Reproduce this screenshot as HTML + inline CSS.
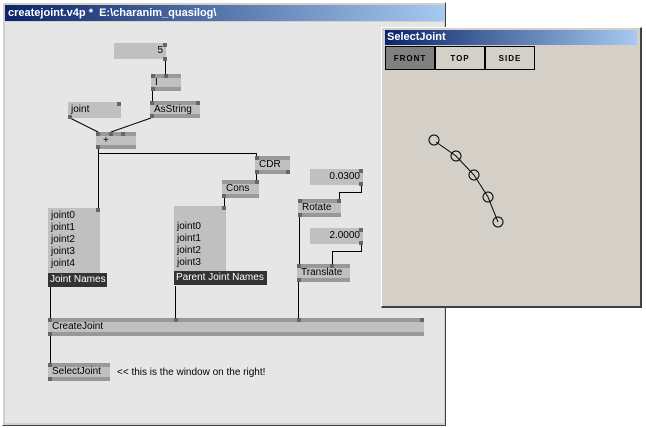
<!DOCTYPE html>
<html><head><meta charset="utf-8"><style>
body{margin:0;width:646px;height:428px;background:#fff;position:relative;overflow:hidden;font-family:"Liberation Sans",sans-serif;font-size:10px;color:#000}
.a{position:absolute;box-sizing:border-box}
.n{position:absolute;box-sizing:border-box;background:#c0c0c0;border-top:4px solid #999;border-bottom:4px solid #999;padding-left:4px;line-height:10px;font-size:10px;white-space:nowrap}
.b{position:absolute;box-sizing:border-box;background:#c0c0c0;text-align:right;padding-right:3px;font-size:10px;line-height:16px}
.p{position:absolute;width:4px;height:4px;background:#666}
.lbl{position:absolute;background:#333;color:#fff;font-size:10px;line-height:14px;padding-left:2px;box-sizing:border-box;white-space:nowrap}
.btn{position:absolute;top:46px;height:24px;border:1px solid #000;font-size:8px;letter-spacing:1px;text-align:center;line-height:24px;box-sizing:border-box;font-weight:bold}
</style></head><body>
<div class="a" style="left:2px;top:2px;width:444px;height:424px;background:#d4d0c8;border:1px solid #fff;border-right-color:#404040;border-bottom-color:#404040"></div>
<div class="a" style="left:5px;top:5px;width:440px;height:16px;background:linear-gradient(90deg,#0a246a,#a6caf0);color:#fff;font-weight:bold;font-size:11px;line-height:16px;padding-left:3px">createjoint.v4p *&nbsp; E:\charanim_quasilog\</div>
<div class="a" style="left:5px;top:22px;width:439px;height:401px;background:#e6e6e6"></div>

<svg class="a" style="left:0;top:0" width="646" height="428">
<g stroke="#000" stroke-width="1" fill="none">
<path d="M165.5 59V74"/><path d="M152.5 91V101"/>
<path d="M70 118L98 132"/><path d="M151 118L111 132"/>
<path d="M98.5 149V208"/><path d="M98.5 153.5H256.5V156"/>
<path d="M256.5 174V180"/><path d="M224.5 198V206"/>
<path d="M361.5 185V192.5H339.5V199"/><path d="M299.5 217V264"/>
<path d="M361.5 244V251.5H332.5V264"/>
<path d="M50.5 287V318"/><path d="M175.5 286V318"/><path d="M298.5 282V318"/>
<path d="M50.5 336V363"/>
</g></svg>

<div class="b" style="left:114px;top:43px;width:52px;height:16px">5</div><div class="p" style="left:163px;top:57px"></div><div class="p" style="left:163px;top:43px"></div>
<div class="n" style="left:151px;top:74px;width:30px;height:17px">I</div>
<div class="n" style="left:150px;top:101px;width:50px;height:17px">AsString</div>
<div class="b" style="left:68px;top:102px;width:53px;height:16px;text-align:left;padding-left:3px">joint</div><div class="p" style="left:68px;top:115px"></div><div class="p" style="left:117px;top:102px"></div>
<div class="n" style="left:96px;top:132px;width:40px;height:17px;padding-left:7px">+</div>
<div class="n" style="left:255px;top:156px;width:35px;height:18px">CDR</div>
<div class="n" style="left:222px;top:180px;width:37px;height:18px">Cons</div>
<div class="a" style="left:48px;top:208px;width:52px;height:65px;background:#c0c0c0;padding:2px 0 0 3px;line-height:12px;font-size:10px">joint0<br>joint1<br>joint2<br>joint3<br>joint4</div><div class="p" style="left:96px;top:208px"></div>
<div class="lbl" style="left:48px;top:273px;width:59px">Joint Names</div>
<div class="a" style="left:174px;top:206px;width:52px;height:65px;background:#c0c0c0;padding:15px 0 0 3px;line-height:12px;font-size:10px">joint0<br>joint1<br>joint2<br>joint3</div><div class="p" style="left:222px;top:206px"></div>
<div class="lbl" style="left:174px;top:271px;width:93px">Parent Joint Names</div>
<div class="b" style="left:310px;top:169px;width:53px;height:16px">0.0300</div><div class="p" style="left:359px;top:182px"></div><div class="p" style="left:359px;top:169px"></div>
<div class="n" style="left:298px;top:199px;width:43px;height:18px">Rotate</div>
<div class="b" style="left:310px;top:228px;width:53px;height:16px">2.0000</div><div class="p" style="left:359px;top:241px"></div><div class="p" style="left:359px;top:228px"></div>
<div class="n" style="left:297px;top:264px;width:53px;height:18px">Translate</div>
<div class="n" style="left:48px;top:318px;width:376px;height:18px">CreateJoint</div>
<div class="n" style="left:48px;top:363px;width:62px;height:18px">SelectJoint</div>
<div class="p" style="left:151px;top:74px"></div><div class="p" style="left:164px;top:74px"></div><div class="p" style="left:151px;top:87px"></div>
<div class="p" style="left:150px;top:101px"></div><div class="p" style="left:150px;top:114px"></div><div class="p" style="left:196px;top:101px"></div>
<div class="p" style="left:96px;top:132px"></div><div class="p" style="left:109px;top:132px"></div><div class="p" style="left:121px;top:132px"></div><div class="p" style="left:96px;top:145px"></div>
<div class="p" style="left:255px;top:156px"></div><div class="p" style="left:255px;top:170px"></div><div class="p" style="left:286px;top:170px"></div>
<div class="p" style="left:222px;top:194px"></div><div class="p" style="left:255px;top:180px"></div>
<div class="p" style="left:298px;top:199px"></div><div class="p" style="left:337px;top:199px"></div><div class="p" style="left:298px;top:213px"></div>
<div class="p" style="left:297px;top:264px"></div><div class="p" style="left:330px;top:264px"></div><div class="p" style="left:297px;top:278px"></div>
<div class="p" style="left:48px;top:318px"></div><div class="p" style="left:174px;top:318px"></div><div class="p" style="left:297px;top:318px"></div><div class="p" style="left:420px;top:318px"></div><div class="p" style="left:48px;top:332px"></div>
<div class="p" style="left:48px;top:363px"></div><div class="p" style="left:48px;top:377px"></div>
<div class="a" style="left:117px;top:367px;font-size:10px;white-space:nowrap">&lt;&lt; this is the window on the right!</div>

<div class="a" style="left:381px;top:27px;width:261px;height:281px;background:#d4d0c8;border:1px solid #fff;border-right:2px solid #404040;border-bottom:2px solid #404040"></div>
<div class="a" style="left:385px;top:30px;width:252px;height:15px;background:linear-gradient(90deg,#0a246a,#a6caf0);color:#fff;font-weight:bold;font-size:11px;line-height:15px;padding-left:2px">SelectJoint</div>
<div class="btn" style="left:385px;width:50px;background:#808080">FRONT</div>
<div class="btn" style="left:435px;width:50px">TOP</div>
<div class="btn" style="left:485px;width:50px">SIDE</div>
<svg class="a" style="left:0;top:0" width="646" height="428"><g stroke="#000" fill="none" stroke-width="1">
<path d="M436 142L456 156L474 175L488 197L498 222"/>
<circle cx="434" cy="140" r="5"/><circle cx="456" cy="156" r="5"/><circle cx="474" cy="175" r="5"/><circle cx="488" cy="197" r="5"/><circle cx="498" cy="222" r="5"/>
</g></svg>
</body></html>
